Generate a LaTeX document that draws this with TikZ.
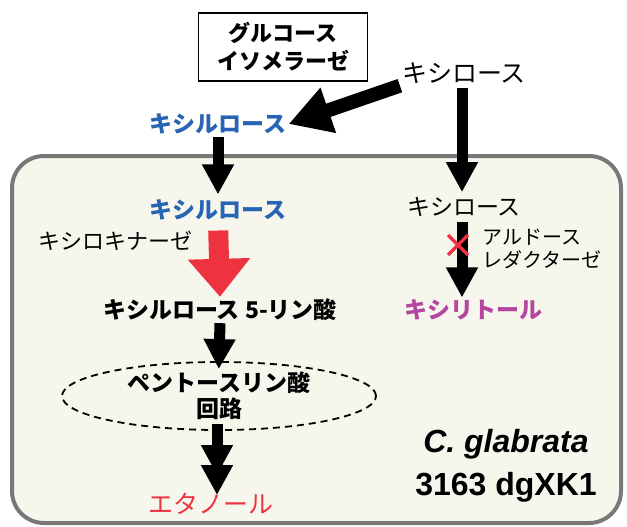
\documentclass[tikz,border=0pt]{standalone}
\usepackage{fontspec}
\setmainfont{Liberation Sans}
\newfontfamily\jp{Noto Sans CJK JP}
\usepackage{tikz}
\usetikzlibrary{arrows.meta,shapes.geometric,positioning,calc}
\definecolor{xblue}{RGB}{40,100,180}
\definecolor{xred}{RGB}{238,50,64}
\definecolor{xpink}{RGB}{180,70,160}
\definecolor{cellfill}{RGB}{247,246,236}
\definecolor{cellline}{RGB}{120,120,120}
\tikzset{
	flow/.style={line width=11pt, -{Triangle[width=30pt,length=30pt]}},
	label/.style={inner sep=2pt, font=\jp\fontsize{23}{28}\selectfont},
	plain/.style={inner sep=2pt, font=\jp\fontsize{20}{23}\selectfont},
}

\begin{document}
\begin{tikzpicture}[x=1pt,y=-1pt]
			\useasboundingbox (0,0) rectangle (627,527);
			% cell
			\draw[fill=cellfill, draw=cellline, line width=4pt, rounded corners=32pt] (12,156) rectangle (621,523);
			\node[draw, line width=1.2pt, minimum width=169pt, minimum height=68pt, align=center, label, font=\jp\bfseries\fontsize{22}{28}\selectfont] (GI) at (283,47) {グルコース\\イソメラーゼ} ;
			\node[label, font=\jp\fontsize{25}{28}\selectfont] (XyloseTop) at (464,73) {キシロース} ;
			\node[label, font=\jp\bfseries\fontsize{23}{28}\selectfont, text=xblue] (XyluloseTop) at (218,124) {キシルロース} ;
			\node[label, font=\jp\bfseries\fontsize{23}{28}\selectfont, text=xblue] (XyluloseIn) at (218,210) {キシルロース} ;
			\node[label] (XyloseIn) at (464,207) {キシロース} ;
			\node[plain, font=\jp\fontsize{22}{26}\selectfont] (XK) at (115,241) {キシロキナーゼ} ;
			\node[label, font=\jp\bfseries\fontsize{23}{28}\selectfont] (X5P) at (220,310) {キシルロース 5-リン酸} ;
			\node[draw, dash pattern=on 7pt off 5pt, line width=1.8pt, ellipse, minimum width=314pt, minimum height=68pt, inner sep=0pt, align=center, font=\jp\bfseries\fontsize{23}{26}\selectfont] (PPP) at (219,396) {ペントースリン酸\\回路} ;
			\node[label, font=\jp\fontsize{25}{28}\selectfont, text=xred] (Ethanol) at (211,504) {エタノール} ;
			\node[plain, anchor=west, align=left] (AR) at (480,249) {アルドース\\レダクターゼ} ;
			\node[label, font=\jp\bfseries\fontsize{23}{28}\selectfont, text=xpink] (Xylitol) at (473,310) {キシリトール} ;
			\node[align=center, inner sep=0pt, font=\bfseries\fontsize{32}{43}\selectfont] (Strain) at (506,466) {\textit{C. glabrata}\\3163 dgXK1} ;
			% arrows
			\draw[line width=14pt, -{Triangle[width=45pt,length=42pt]}] (XyloseTop.south west) -- (XyluloseTop.east) ;
			\draw[flow, shorten >=3pt] (XyluloseTop.south) -- (XyluloseIn.north) ;
			\draw[flow, shorten >=3pt] ($(XyloseTop.south)+(-2,2)$) -- ($(XyloseIn.north)+(-2,0)$) ;
			\draw[line width=20pt, xred, -{Triangle[width=60pt,length=38pt]}, shorten <=8pt] (XyluloseIn.south) -- (X5P.north) ;
			\draw[flow, shorten <=3pt] ($(XyloseIn.south)+(-2,0)$) -- ($(XyloseIn.south |- Xylitol.north)+(-2,0)$) ;
			\draw[flow, shorten >=-8pt] (X5P.south) -- (PPP.north) ;
			\draw[line width=11pt, -{Triangle[width=30pt,length=30pt,sep=-10pt]Triangle[width=30pt,length=30pt,sep=-10pt]}, shorten <=-7pt, shorten >=6pt] ($(PPP.south)+(-2,0)$) -- ($(PPP.south |- Ethanol.north)+(-2,0)$) ;
			% blocked step
			\draw[xred, line width=3.5pt] (448,235) -- (468,255) (448,255) -- (468,235) ;
		\end{tikzpicture}
\end{document}
